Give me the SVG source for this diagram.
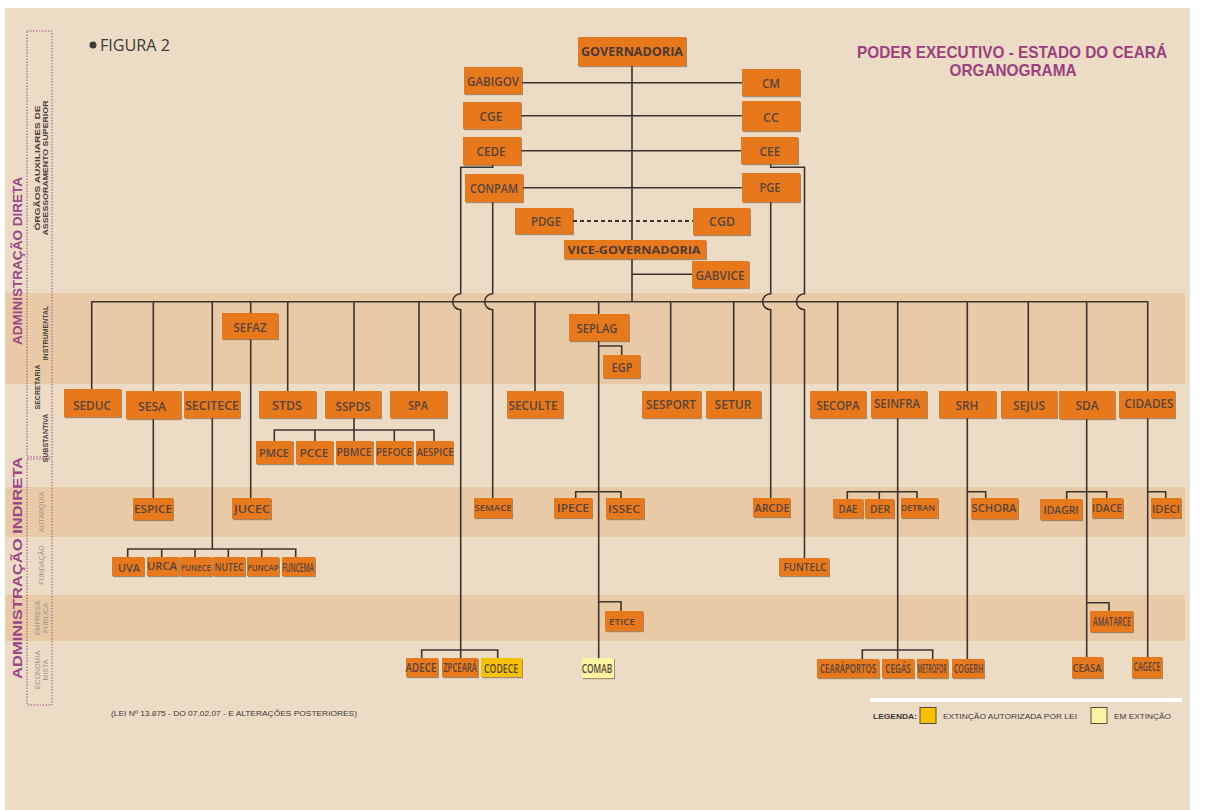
<svg xmlns="http://www.w3.org/2000/svg" width="1216" height="810" viewBox="0 0 1216 810">
<defs>
<filter id="sh" x="-10%" y="-10%" width="130%" height="140%"><feDropShadow dx="1" dy="1.2" stdDeviation="0.4" flood-color="#6b4a2a" flood-opacity="0.55"/></filter>
<style>
.b{fill:#e8781c;filter:url(#sh)}
.y1{fill:#f6c200;filter:url(#sh)}
.y2{fill:#fcf4a2;filter:url(#sh)}
.t{font-family:"Open Sans","DejaVu Sans",sans-serif;font-weight:600;font-size:12px;fill:#57453c;text-anchor:middle;dominant-baseline:central}
.s{font-size:10px}
.xs{font-size:8.5px}
.g{font-weight:700;fill:#4a3a34}
.c{fill:none;stroke:#3b332f;stroke-width:1.6}
.d{fill:none;stroke:#3b332f;stroke-width:2;stroke-dasharray:4 3}
.adm{font-family:"Liberation Sans",Arial,sans-serif;font-size:13px;font-weight:700;fill:#9c4589;text-anchor:middle}
.in{font-family:"Liberation Sans",Arial,sans-serif;font-size:7px;font-weight:700;fill:#4a4040;text-anchor:middle}
.ig{font-family:"Liberation Sans",Arial,sans-serif;font-size:7px;fill:#a0958c;text-anchor:middle}
.sm{font-family:"Liberation Sans",Arial,sans-serif;font-size:8px;fill:#3e3a38}
</style>
</defs>
<rect width="1216" height="810" fill="#ffffff"/>
<rect x="5" y="8" width="1185" height="802" fill="#ecdcc5"/>
<rect x="5" y="293" width="1180" height="91" fill="#e8cba6"/>
<rect x="5" y="487" width="1180" height="50" fill="#e8cba6"/>
<rect x="5" y="595" width="1180" height="46" fill="#e8cba6"/>

<g id="side">
<rect x="27" y="31" width="25" height="426" fill="none" stroke="#a24e8e" stroke-width="1" stroke-dasharray="1.5 1.5"/>
<rect x="27" y="459" width="25" height="246" fill="none" stroke="#a24e8e" stroke-width="1" stroke-dasharray="1.5 1.5"/>
<text class="adm" transform="translate(22,261) rotate(-90)" textLength="168" lengthAdjust="spacingAndGlyphs">ADMINISTRAÇÃO DIRETA</text>
<text class="adm" transform="translate(22,568) rotate(-90)" textLength="222" lengthAdjust="spacingAndGlyphs">ADMINISTRAÇÃO INDIRETA</text>
<text class="in" transform="translate(40,168) rotate(-90)" textLength="125" lengthAdjust="spacingAndGlyphs">ÓRGÃOS AUXILIARES DE</text>
<text class="in" transform="translate(48,168) rotate(-90)" textLength="135" lengthAdjust="spacingAndGlyphs">ASSESSORAMENTO SUPERIOR</text>
<text class="in" transform="translate(40,387) rotate(-90)">SECRETARIA</text>
<text class="in" transform="translate(48,333) rotate(-90)">INSTRUMENTAL</text>
<text class="in" transform="translate(48,438) rotate(-90)">SUBSTANTIVA</text>
<text class="ig" transform="translate(44,512) rotate(-90)">AUTARQUIA</text>
<text class="ig" transform="translate(44,565) rotate(-90)">FUNDAÇÃO</text>
<text class="ig" transform="translate(40,618) rotate(-90)">EMPRESA</text>
<text class="ig" transform="translate(48,618) rotate(-90)">PÚBLICA</text>
<text class="ig" transform="translate(40,670) rotate(-90)">ECONOMIA</text>
<text class="ig" transform="translate(48,670) rotate(-90)">MISTA</text>
</g>

<g id="titles">
<circle cx="93" cy="45" r="3.5" fill="#3a3a3a"/>
<text x="100" y="51" font-family="Open Sans, sans-serif" font-size="16" fill="#3a3a3a" textLength="70" lengthAdjust="spacingAndGlyphs">FIGURA 2</text>
<text x="1012" y="58" font-family="Liberation Sans, Arial, sans-serif" font-weight="700" font-size="17" fill="#9b3f7e" text-anchor="middle" textLength="310" lengthAdjust="spacingAndGlyphs">PODER EXECUTIVO - ESTADO DO CEARÁ</text>
<text x="1013" y="76" font-family="Liberation Sans, Arial, sans-serif" font-weight="700" font-size="17" fill="#9b3f7e" text-anchor="middle" textLength="127" lengthAdjust="spacingAndGlyphs">ORGANOGRAMA</text>
<text class="sm" x="111" y="716" textLength="246" lengthAdjust="spacingAndGlyphs">(LEI Nº 13.875 - DO 07.02.07 - E ALTERAÇÕES POSTERIORES)</text>
</g>

<g id="legend">
<rect x="870" y="698" width="312" height="4" fill="#ffffff"/>
<text class="sm" x="873" y="719" font-weight="700" textLength="44" lengthAdjust="spacingAndGlyphs">LEGENDA:</text>
<rect x="920" y="707.5" width="16" height="16" fill="#f6c200" stroke="#5a4a3a" stroke-width="1"/>
<text class="sm" x="943" y="719" textLength="134" lengthAdjust="spacingAndGlyphs">EXTINÇÃO AUTORIZADA POR LEI</text>
<rect x="1091" y="707.5" width="16" height="16" fill="#fcf4a2" stroke="#5a4a3a" stroke-width="1"/>
<text class="sm" x="1114" y="719" textLength="57" lengthAdjust="spacingAndGlyphs">EM EXTINÇÃO</text>
</g>

<g id="connectors">
<path class="c" d="M632,66 V302"/>
<path class="c" d="M522,82.7 H742 M521,115.7 H742 M521,150.7 H741 M523,187.7 H742 M632,274.3 H692"/>
<path class="d" d="M573,221 H693"/>
<path class="c" d="M492.7,165 V167.3 H460.7 V293.7 A8,8 0 0 0 460.7,309.7 V658"/>
<path class="c" d="M492.7,202 V293.7 A8,8 0 0 0 492.7,309.7 V498"/>
<path class="c" d="M770.7,164 V167.3 H804.5 V293.7 A8,8 0 0 0 804.5,309.7 V558"/>
<path class="c" d="M770.7,202 V293.7 A8,8 0 0 0 770.7,309.7 V498"/>
<path class="c" d="M91.7,389 V301.7 H1147.7 V391"/>
<path class="c" d="M153.3,301.7 V391 M153.3,418 V498"/>
<path class="c" d="M212.3,301.7 V391 M212.3,418 V549"/>
<path class="c" d="M250.7,301.7 V313 M250.7,339 V498"/>
<path class="c" d="M287.7,301.7 V391 M354,301.7 V391 M354,418 V441 M419,301.7 V391"/>
<path class="c" d="M274.3,441 V430 H434 V441 M315,430 V441 M394.3,430 V441"/>
<path class="c" d="M535,301.7 V391"/>
<path class="c" d="M598.7,301.7 V314 M598.7,340.7 V658 M598.7,346 H621.7 V355"/>
<path class="c" d="M575.7,498 V491.7 H621 V498 M598.7,601.7 H621 V611"/>
<path class="c" d="M670.7,301.7 V391 M733.7,301.7 V391 M837.7,301.7 V391"/>
<path class="c" d="M897.7,301.7 V391 M897.7,418 V659"/>
<path class="c" d="M847.3,499 V491.7 H917 V499 M879.3,491.7 V499 M862.3,659 V650 H932.7 V659"/>
<path class="c" d="M967.3,301.7 V391 M967.3,418 V659 M967.3,491.7 H985.7 V498"/>
<path class="c" d="M1028.3,301.7 V391"/>
<path class="c" d="M1086.7,301.7 V391 M1086.7,419 V657 M1066.7,499 V491.7 H1106.7 V499 M1086.7,602.7 H1109 V611"/>
<path class="c" d="M1147.7,417.7 V657 M1147.7,491.7 H1165.7 V499"/>
<path class="c" d="M127.7,557 V549 H295.7 V557 M161.7,549 V557 M195,549 V557 M228.3,549 V557 M261.7,549 V557"/>
<path class="c" d="M421.7,658 V650 H497.7 V658"/>
</g>

<g id="n-governadoria"><rect class="b" x="578" y="37" width="108" height="29"/><text class="t g" x="632" y="51.5" textLength="102" lengthAdjust="spacingAndGlyphs">GOVERNADORIA</text></g>
<g id="n-gabigov"><rect class="b" x="464" y="67" width="58" height="27"/><text class="t" x="493" y="81" textLength="52" lengthAdjust="spacingAndGlyphs">GABIGOV</text></g>
<g id="n-cm"><rect class="b" x="742" y="69" width="58" height="27"/><text class="t" x="771" y="83" textLength="18" lengthAdjust="spacingAndGlyphs">CM</text></g>
<g id="n-cge"><rect class="b" x="463" y="102" width="58" height="27"/><text class="t" x="491" y="116" textLength="23" lengthAdjust="spacingAndGlyphs">CGE</text></g>
<g id="n-cc"><rect class="b" x="742" y="101" width="58" height="30"/><text class="t" x="771" y="117" textLength="16" lengthAdjust="spacingAndGlyphs">CC</text></g>
<g id="n-cede"><rect class="b" x="463" y="137" width="58" height="28"/><text class="t" x="491" y="151.5" textLength="29" lengthAdjust="spacingAndGlyphs">CEDE</text></g>
<g id="n-cee"><rect class="b" x="741" y="137" width="57" height="27"/><text class="t" x="770" y="151" textLength="21" lengthAdjust="spacingAndGlyphs">CEE</text></g>
<g id="n-conpam"><rect class="b" x="465" y="174" width="58" height="28"/><text class="t" x="494" y="188.5" textLength="48" lengthAdjust="spacingAndGlyphs">CONPAM</text></g>
<g id="n-pge"><rect class="b" x="742" y="173" width="58" height="29"/><text class="t" x="770" y="187.5" textLength="21" lengthAdjust="spacingAndGlyphs">PGE</text></g>
<g id="n-pdge"><rect class="b" x="515" y="208" width="58" height="26"/><text class="t" x="546" y="221.5" textLength="30" lengthAdjust="spacingAndGlyphs">PDGE</text></g>
<g id="n-cgd"><rect class="b" x="693" y="208" width="57" height="27"/><text class="t" x="722" y="221.5" textLength="26" lengthAdjust="spacingAndGlyphs">CGD</text></g>
<g id="n-vicegov"><rect class="b" x="564" y="240" width="142" height="19"/><text class="t g s" x="634" y="250" textLength="133" lengthAdjust="spacingAndGlyphs">VICE-GOVERNADORIA</text></g>
<g id="n-gabvice"><rect class="b" x="692" y="261" width="57" height="27"/><text class="t" x="720" y="275" textLength="49" lengthAdjust="spacingAndGlyphs">GABVICE</text></g>

<g id="n-sefaz"><rect class="b" x="222" y="313" width="56" height="26"/><text class="t" x="250" y="327" textLength="33" lengthAdjust="spacingAndGlyphs">SEFAZ</text></g>
<g id="n-seplag"><rect class="b" x="569" y="314" width="60" height="27"/><text class="t" x="597" y="328" textLength="41" lengthAdjust="spacingAndGlyphs">SEPLAG</text></g>
<g id="n-egp"><rect class="b" x="603" y="355" width="37" height="23"/><text class="t" x="622" y="367" textLength="21" lengthAdjust="spacingAndGlyphs">EGP</text></g>

<g id="n-seduc"><rect class="b" x="64" y="389" width="57" height="28"/><text class="t" x="92" y="405" textLength="38" lengthAdjust="spacingAndGlyphs">SEDUC</text></g>
<g id="n-sesa"><rect class="b" x="126" y="391" width="55" height="28"/><text class="t" x="152" y="406" textLength="28" lengthAdjust="spacingAndGlyphs">SESA</text></g>
<g id="n-secitece"><rect class="b" x="184" y="391" width="56" height="27"/><text class="t" x="212" y="405" textLength="54" lengthAdjust="spacingAndGlyphs">SECITECE</text></g>
<g id="n-stds"><rect class="b" x="259" y="391" width="57" height="27"/><text class="t" x="287" y="405" textLength="30" lengthAdjust="spacingAndGlyphs">STDS</text></g>
<g id="n-sspds"><rect class="b" x="325" y="391" width="56" height="27"/><text class="t" x="353" y="406" textLength="35" lengthAdjust="spacingAndGlyphs">SSPDS</text></g>
<g id="n-spa"><rect class="b" x="390" y="391" width="57" height="27"/><text class="t" x="418" y="405" textLength="20" lengthAdjust="spacingAndGlyphs">SPA</text></g>
<g id="n-seculte"><rect class="b" x="507" y="391" width="56" height="27"/><text class="t" x="533" y="405" textLength="49" lengthAdjust="spacingAndGlyphs">SECULTE</text></g>
<g id="n-sesport"><rect class="b" x="642" y="391" width="59" height="27"/><text class="t" x="671" y="404" textLength="50" lengthAdjust="spacingAndGlyphs">SESPORT</text></g>
<g id="n-setur"><rect class="b" x="706" y="391" width="55" height="27"/><text class="t" x="733" y="404" textLength="37" lengthAdjust="spacingAndGlyphs">SETUR</text></g>
<g id="n-secopa"><rect class="b" x="810" y="391" width="56" height="27"/><text class="t" x="838" y="405" textLength="43" lengthAdjust="spacingAndGlyphs">SECOPA</text></g>
<g id="n-seinfra"><rect class="b" x="871" y="391" width="56" height="27"/><text class="t" x="897" y="403" textLength="46" lengthAdjust="spacingAndGlyphs">SEINFRA</text></g>
<g id="n-srh"><rect class="b" x="939" y="391" width="57" height="27"/><text class="t" x="967" y="405" textLength="23" lengthAdjust="spacingAndGlyphs">SRH</text></g>
<g id="n-sejus"><rect class="b" x="1001" y="391" width="56" height="27"/><text class="t" x="1029" y="405" textLength="32" lengthAdjust="spacingAndGlyphs">SEJUS</text></g>
<g id="n-sda"><rect class="b" x="1059" y="391" width="56" height="28"/><text class="t" x="1087" y="405" textLength="23" lengthAdjust="spacingAndGlyphs">SDA</text></g>
<g id="n-cidades"><rect class="b" x="1119" y="391" width="56" height="27"/><text class="t" x="1149" y="403" textLength="49" lengthAdjust="spacingAndGlyphs">CIDADES</text></g>

<g id="n-pmce"><rect class="b" x="256" y="441" width="37" height="23"/><text class="t s" x="274" y="453" textLength="30" lengthAdjust="spacingAndGlyphs">PMCE</text></g>
<g id="n-pcce"><rect class="b" x="296" y="441" width="37" height="23"/><text class="t s" x="314" y="453" textLength="29" lengthAdjust="spacingAndGlyphs">PCCE</text></g>
<g id="n-pbmce"><rect class="b" x="336" y="441" width="37" height="23"/><text class="t s" x="354" y="452" textLength="35" lengthAdjust="spacingAndGlyphs">PBMCE</text></g>
<g id="n-pefoce"><rect class="b" x="376" y="441" width="37" height="23"/><text class="t s" x="394" y="451.5" textLength="36" lengthAdjust="spacingAndGlyphs">PEFOCE</text></g>
<g id="n-aespice"><rect class="b" x="416" y="441" width="37" height="23"/><text class="t s" x="435" y="451.5" textLength="37" lengthAdjust="spacingAndGlyphs">AESPICE</text></g>

<g id="n-espice"><rect class="b" x="133" y="498" width="40" height="22"/><text class="t s" x="153" y="509" textLength="38" lengthAdjust="spacingAndGlyphs">ESPICE</text></g>
<g id="n-jucec"><rect class="b" x="232" y="498" width="39" height="21"/><text class="t s" x="252" y="508.5" textLength="36" lengthAdjust="spacingAndGlyphs">JUCEC</text></g>
<g id="n-semace"><rect class="b" x="474" y="498" width="38" height="20"/><text class="t xs" x="493" y="507.5" textLength="37" lengthAdjust="spacingAndGlyphs">SEMACE</text></g>
<g id="n-ipece"><rect class="b" x="554" y="498" width="38" height="20"/><text class="t s" x="573" y="508" textLength="32" lengthAdjust="spacingAndGlyphs">IPECE</text></g>
<g id="n-issec"><rect class="b" x="606" y="498" width="38" height="21"/><text class="t s" x="624" y="508.5" textLength="32" lengthAdjust="spacingAndGlyphs">ISSEC</text></g>
<g id="n-arcde"><rect class="b" x="753" y="498" width="37" height="19"/><text class="t s" x="772" y="507.5" textLength="35" lengthAdjust="spacingAndGlyphs">ARCDE</text></g>
<g id="n-dae"><rect class="b" x="833" y="499" width="30" height="19"/><text class="t s" x="848" y="509" textLength="19" lengthAdjust="spacingAndGlyphs">DAE</text></g>
<g id="n-der"><rect class="b" x="865" y="499" width="29" height="19"/><text class="t s" x="880" y="509" textLength="20" lengthAdjust="spacingAndGlyphs">DER</text></g>
<g id="n-detran"><rect class="b" x="901" y="498" width="37" height="20"/><text class="t xs" x="918" y="507" textLength="34" lengthAdjust="spacingAndGlyphs">DETRAN</text></g>
<g id="n-schora"><rect class="b" x="971" y="498" width="47" height="21"/><text class="t s" x="994" y="508" textLength="45" lengthAdjust="spacingAndGlyphs">SCHORA</text></g>
<g id="n-idagri"><rect class="b" x="1040" y="499" width="42" height="21"/><text class="t s" x="1061" y="509.5" textLength="35" lengthAdjust="spacingAndGlyphs">IDAGRI</text></g>
<g id="n-idace"><rect class="b" x="1092" y="498" width="31" height="20"/><text class="t s" x="1107" y="508" textLength="30" lengthAdjust="spacingAndGlyphs">IDACE</text></g>
<g id="n-ideci"><rect class="b" x="1151" y="498" width="30" height="20"/><text class="t s" x="1166" y="509" textLength="28" lengthAdjust="spacingAndGlyphs">IDECI</text></g>

<g id="n-uva"><rect class="b" x="112" y="557" width="32" height="19"/><text class="t s" x="129" y="567.5" textLength="22" lengthAdjust="spacingAndGlyphs">UVA</text></g>
<g id="n-urca"><rect class="b" x="147" y="557" width="32" height="19"/><text class="t s" x="162" y="566" textLength="30" lengthAdjust="spacingAndGlyphs">URCA</text></g>
<g id="n-funece"><rect class="b" x="180" y="557" width="32" height="19"/><text class="t xs" x="196" y="567" textLength="30" lengthAdjust="spacingAndGlyphs">FUNECE</text></g>
<g id="n-nutec"><rect class="b" x="213" y="557" width="32" height="19"/><text class="t s" x="229" y="567" textLength="29" lengthAdjust="spacingAndGlyphs">NUTEC</text></g>
<g id="n-funcap"><rect class="b" x="247" y="557" width="32" height="19"/><text class="t xs" x="263" y="567" textLength="31" lengthAdjust="spacingAndGlyphs">FUNCAP</text></g>
<g id="n-funcema"><rect class="b" x="282" y="557" width="33" height="19"/><text class="t" x="298" y="567" font-size="7" textLength="32" lengthAdjust="spacingAndGlyphs">FUNCEMA</text></g>
<g id="n-funtelc"><rect class="b" x="779" y="558" width="50" height="18"/><text class="t s" x="805" y="567" textLength="43" lengthAdjust="spacingAndGlyphs">FUNTELC</text></g>

<g id="n-etice"><rect class="b" x="605" y="611" width="38" height="20"/><text class="t xs" x="622" y="621" textLength="26" lengthAdjust="spacingAndGlyphs">ETICE</text></g>
<g id="n-amatarce"><rect class="b" x="1090" y="611" width="43" height="21"/><text class="t" x="1112" y="621.5" font-size="7" textLength="38" lengthAdjust="spacingAndGlyphs">AMATARCE</text></g>

<g id="n-adece"><rect class="b" x="406" y="658" width="32" height="19"/><text class="t" transform="translate(421,667.5) scale(0.8,1)" font-size="9.5" textLength="38.5" lengthAdjust="spacingAndGlyphs">ADECE</text></g>
<g id="n-zpceara"><rect class="b" x="442" y="658" width="36" height="19"/><text class="t" transform="translate(460,667) scale(0.75,1)" font-size="9.5" textLength="45" lengthAdjust="spacingAndGlyphs">ZPCEARÁ</text></g>
<g id="n-codece"><rect class="y1" x="481" y="658" width="41" height="19"/><text class="t" transform="translate(501,668) scale(0.85,1)" font-size="9.5" textLength="40" lengthAdjust="spacingAndGlyphs">CODECE</text></g>
<g id="n-comab"><rect class="y2" x="582" y="658" width="32" height="20"/><text class="t" transform="translate(597,668) scale(0.85,1)" font-size="9" textLength="36" lengthAdjust="spacingAndGlyphs">COMAB</text></g>
<g id="n-cearaportos"><rect class="b" x="817" y="659" width="62" height="19"/><text class="t" transform="translate(848,668.5) scale(0.8,1)" font-size="9.5" textLength="70" lengthAdjust="spacingAndGlyphs">CEARÁPORTOS</text></g>
<g id="n-cegas"><rect class="b" x="882" y="659" width="32" height="19"/><text class="t" transform="translate(898,668.5) scale(0.8,1)" font-size="9.5" textLength="32" lengthAdjust="spacingAndGlyphs">CEGÁS</text></g>
<g id="n-metrofor"><rect class="b" x="917" y="659" width="31" height="19"/><text class="t" transform="translate(932,668) scale(0.8,1)" font-size="7" textLength="37" lengthAdjust="spacingAndGlyphs">METROFOR</text></g>
<g id="n-cogerh"><rect class="b" x="952" y="659" width="32" height="19"/><text class="t" transform="translate(968.5,668.5) scale(0.9,1)" font-size="8" textLength="33" lengthAdjust="spacingAndGlyphs">COGERH</text></g>
<g id="n-ceasa"><rect class="b" x="1072" y="657" width="31" height="21"/><text class="t s" x="1087" y="667.5" textLength="29" lengthAdjust="spacingAndGlyphs">CEASA</text></g>
<g id="n-cagece"><rect class="b" x="1132" y="657" width="30" height="21"/><text class="t" x="1147" y="666.5" font-size="7.5" textLength="27" lengthAdjust="spacingAndGlyphs">CAGECE</text></g>
</svg>
